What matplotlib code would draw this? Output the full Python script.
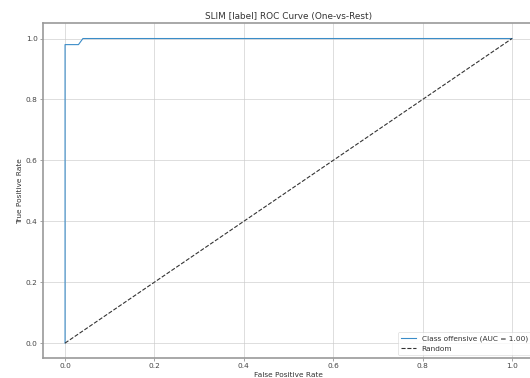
import matplotlib
matplotlib.use("Agg")
import matplotlib.pyplot as plt

fpr = [0.0, 0.0, 0.03, 0.04, 1.0]
tpr = [0.0, 0.98, 0.98, 1.0, 1.0]
class_name = "offensive"
auc_value = 1.00
xticks = [0.0, 0.2, 0.4, 0.6, 0.8, 1.0]
yticks = [0.0, 0.2, 0.4, 0.6, 0.8, 1.0]

s = 0.53
fig = plt.figure(figsize=(5.30, 3.78), dpi=100)
ax = fig.add_axes([42.7 / 530, (378 - 358.3) / 378, 491.7 / 530, 335 / 378])

ax.plot(fpr, tpr, color="#3a8cc8", lw=1.5 * s,
        label=f"Class {class_name} (AUC = {auc_value:.2f})")
ax.plot([0, 1], [0, 1], "--", color="#333333", lw=1.5 * s, label="Random")

ax.set_xlim(-0.05, 1.05)
ax.set_ylim(-0.05, 1.05)
ax.set_xticks(xticks)
ax.set_yticks(yticks)
ax.set_xticklabels([f"{v:.1f}" for v in xticks])
ax.set_yticklabels([f"{v:.1f}" for v in yticks])
ax.tick_params(labelsize=10 * s, width=0.8 * s, length=3.5 * s, pad=3.5 * s,
               colors="#666666", labelcolor="#444444")
for sp in ax.spines.values():
    sp.set_linewidth(1.2)
    sp.set_color("#999999")

ax.grid(True, color="#c8c8c8", lw=0.8 * s)
ax.set_title("SLIM [label] ROC Curve (One-vs-Rest)", fontsize=12 * s, pad=6 * s,
             color="#333333")
ax.set_xlabel("False Positive Rate", fontsize=10 * s, labelpad=4 * s, color="#333333")
ax.set_ylabel("True Positive Rate", fontsize=10 * s, labelpad=4 * s, color="#333333")

leg = ax.legend(loc="lower right", fontsize=10 * s, frameon=True,
                borderpad=0.4, handlelength=2.0)
leg.get_frame().set_linewidth(0.8 * s)
for t in leg.get_texts():
    t.set_color("#333333")

fig.savefig("out.png", dpi=100)
